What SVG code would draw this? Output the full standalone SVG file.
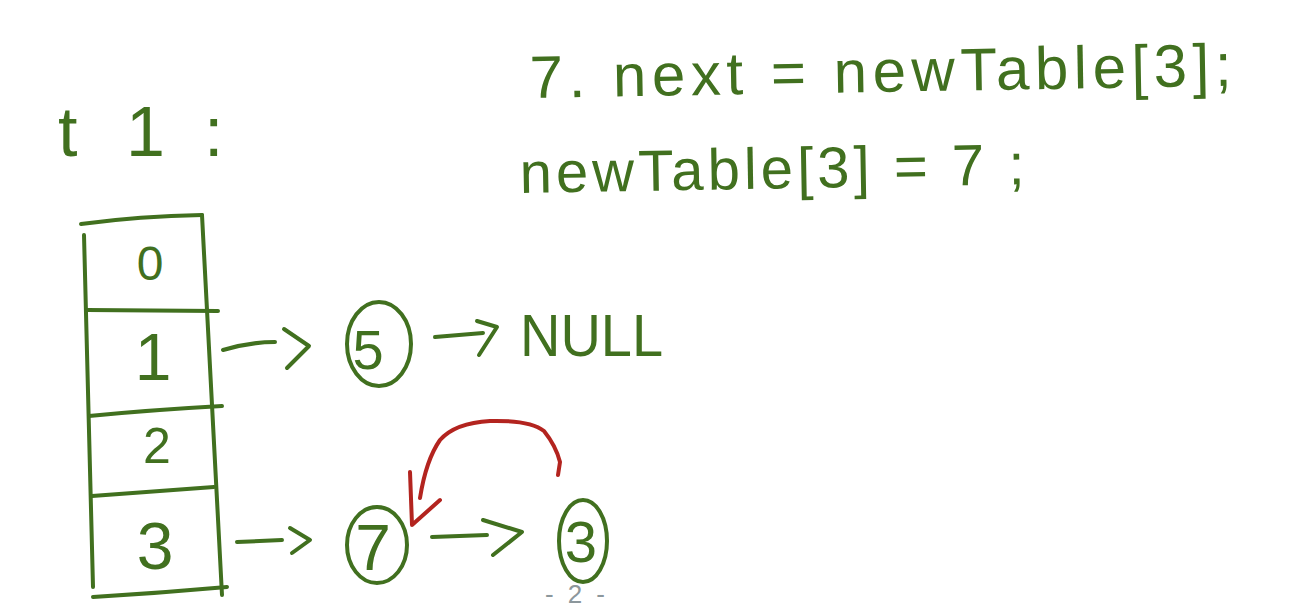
<svg xmlns="http://www.w3.org/2000/svg" width="1298" height="610" viewBox="0 0 1298 610">
<style>
.s{fill:none;stroke:#41701f;stroke-width:4;stroke-linecap:round;stroke-linejoin:round}
.r{fill:none;stroke:#b3241f;stroke-width:4;stroke-linecap:round;stroke-linejoin:round}
.t{fill:#41701f;font-family:"Liberation Sans",Arial,sans-serif}
.c{text-anchor:middle}
.g{fill:#8c979c;font-family:"Liberation Sans",Arial,sans-serif}
</style>
<rect width="1298" height="610" fill="#ffffff"/>
<g id="title">
<text class="t" font-size="70" y="156"><tspan x="58">t</tspan><tspan x="126">1</tspan><tspan x="204">:</tspan></text>
</g>
<g id="code">
<text class="t" x="530" y="98" font-size="60" textLength="702" lengthAdjust="spacing" transform="rotate(-1 530 98)">7. next = newTable[3];</text>
<text class="t" x="520" y="193" font-size="58" textLength="505" lengthAdjust="spacing" transform="rotate(-1 520 193)">newTable[3] = 7 ;</text>
</g>
<g id="table">
<path class="s" d="M81 224 Q140 216 202 215"/>
<path class="s" d="M84 235 L93 587"/>
<path class="s" d="M202 215 L222 595"/>
<path class="s" d="M87 310 L218 311"/>
<path class="s" d="M89 416 Q150 410 222 406"/>
<path class="s" d="M92 496 L214 487"/>
<path class="s" d="M93 597 Q160 593 227 587"/>
</g>
<g id="cell0"><text class="t c" x="150" y="280" font-size="48">0</text></g>
<g id="cell1"><text class="t c" x="153" y="380" font-size="66">1</text></g>
<g id="cell2"><text class="t c" x="157" y="463" font-size="50">2</text></g>
<g id="cell3"><text class="t c" x="155" y="569" font-size="66">3</text></g>
<g id="node5">
<ellipse class="s" cx="379" cy="344" rx="32" ry="42"/>
<text class="t c" x="368" y="369" font-size="56">5</text>
</g>
<g id="null"><text class="t" x="520" y="356" font-size="60" textLength="143" lengthAdjust="spacingAndGlyphs">NULL</text></g>
<g id="node7">
<ellipse class="s" cx="377" cy="545" rx="30" ry="38"/>
<text class="t c" x="373" y="570" font-size="64">7</text>
</g>
<g id="node3">
<ellipse class="s" cx="583" cy="541" rx="24" ry="41"/>
<text class="t c" x="581" y="562" font-size="58">3</text>
</g>
<g id="connectors">
<path class="s" d="M223 350 Q250 342 275 342"/>
<path class="s" d="M284 329 L309 346 L287 368"/>
<path class="s" d="M435 337 L483 333"/>
<path class="s" d="M477 321 L497 327 L479 355"/>
<path class="s" d="M237 542 L282 540"/>
<path class="s" d="M290 528 L310 540 L292 553"/>
<path class="s" d="M432 537 L487 535"/>
<path class="s" d="M483 520 L522 532 L493 555"/>
<path class="r" d="M558 475 L560 462 Q556 446 544 431 Q530 420 490 421 Q455 423 440 440 Q426 460 420 498"/>
<path class="r" d="M410 472 L412 525 L440 500"/>
</g>
<g id="page"><text class="g" x="545" y="603" font-size="26" textLength="60" lengthAdjust="spacing">- 2 -</text></g>
</svg>
